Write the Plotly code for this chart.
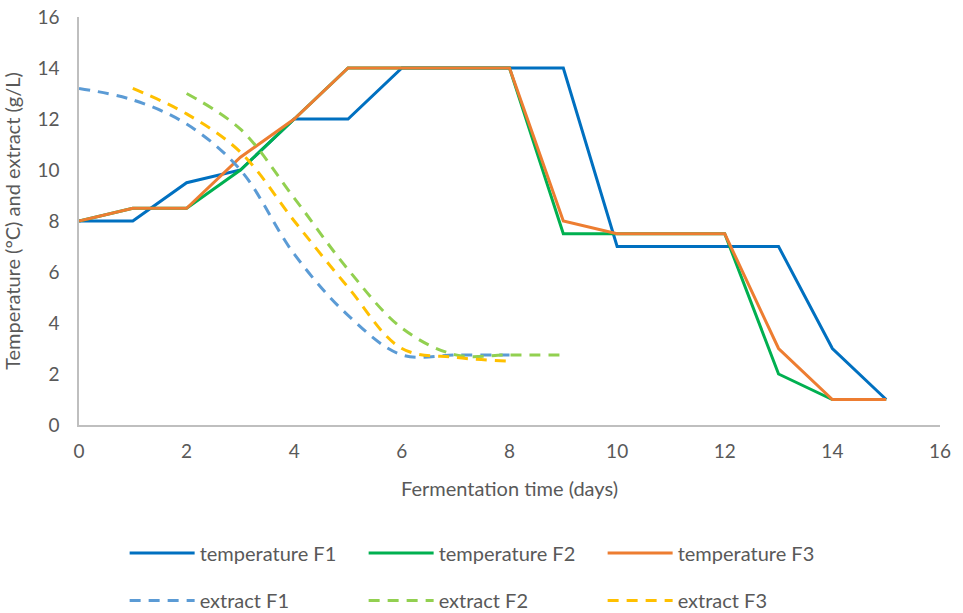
import plotly.graph_objects as go

# Fermentation days
days = list(range(0, 16))

# Temperature profiles (°C)
temp_f1 = [8, 8, 9.5, 10, 12, 12, 14, 14, 14, 14, 7, 7, 7, 7, 3, 1]
temp_f2 = [8, 8.5, 8.5, 10, 12, 14, 14, 14, 14, 7.5, 7.5, 7.5, 7.5, 2, 1, 1]
temp_f3 = [8, 8.5, 8.5, 10.5, 12, 14, 14, 14, 14, 8, 7.5, 7.5, 7.5, 3, 1, 1]

# Extract measurements (g/L)
extract_f1_days = [0, 1, 2, 3, 4, 5, 6, 7, 8]
extract_f1 = [13.2, 12.75, 11.8, 10.0, 6.7, 4.3, 2.75, 2.75, 2.75]
extract_f2_days = [2, 3, 4, 5, 6, 7, 8, 9]
extract_f2 = [13.0, 11.6, 8.9, 6.1, 3.8, 2.75, 2.75, 2.75]
extract_f3_days = [1, 2, 3, 4, 5, 6, 7, 8]
extract_f3 = [13.2, 12.2, 10.7, 8.0, 5.4, 3.0, 2.65, 2.5]

FONT = "Lato"
GREY = "#595959"

fig = go.Figure()

temp_series = [
    ("temperature F1", temp_f1, "#0070C0"),
    ("temperature F2", temp_f2, "#00B050"),
    ("temperature F3", temp_f3, "#ED7D31"),
]
for name, vals, color in temp_series:
    fig.add_trace(go.Scatter(
        x=days, y=vals, name=name, mode="lines",
        line=dict(color=color, width=3),
        legend="legend",
    ))

extract_series = [
    ("extract F1", extract_f1_days, extract_f1, "#5B9BD5"),
    ("extract F2", extract_f2_days, extract_f2, "#92D050"),
    ("extract F3", extract_f3_days, extract_f3, "#FFC000"),
]
for name, xs, vals, color in extract_series:
    fig.add_trace(go.Scatter(
        x=xs, y=vals, name=name, mode="lines",
        line=dict(color=color, width=3, dash="11px,8px", shape="spline", smoothing=1.0),
        legend="legend2",
    ))

legend_common = dict(
    orientation="h",
    xanchor="left",
    yanchor="middle",
    x=0.053,
    font=dict(family=FONT, size=20, color=GREY),
    entrywidth=159,
    entrywidthmode="pixels",
    itemwidth=65,
    bgcolor="rgba(0,0,0,0)",
    borderwidth=0,
)

fig.update_layout(
    width=963,
    height=613,
    margin=dict(l=79, r=23, t=17, b=188, autoexpand=False),
    paper_bgcolor="white",
    plot_bgcolor="white",
    font=dict(family=FONT, color=GREY, size=19),
    xaxis=dict(
        range=[0, 16], dtick=2, tick0=0,
        showgrid=False, zeroline=False, automargin=False,
        showline=True, linecolor="#BFBFBF", linewidth=1.5,
        ticks="", tickfont=dict(family=FONT, size=19, color=GREY),
        ticklabelstandoff=8,
        title=dict(text="Fermentation time (days)", font=dict(family=FONT, size=20, color=GREY), standoff=21),
    ),
    yaxis=dict(
        range=[0, 16], dtick=2, tick0=0,
        showgrid=False, zeroline=False, automargin=False,
        showline=True, linecolor="#BFBFBF", linewidth=1.5,
        ticks="", tickfont=dict(family=FONT, size=19, color=GREY),
        ticklabelstandoff=14,
        title=dict(text="Temperature (°C) and extract (g/L)", font=dict(family=FONT, size=20, color=GREY), standoff=11),
    ),
    legend=dict(legend_common, y=-0.314),
    legend2=dict(legend_common, y=-0.43),
    showlegend=True,
)

fig.write_html("out.html")
